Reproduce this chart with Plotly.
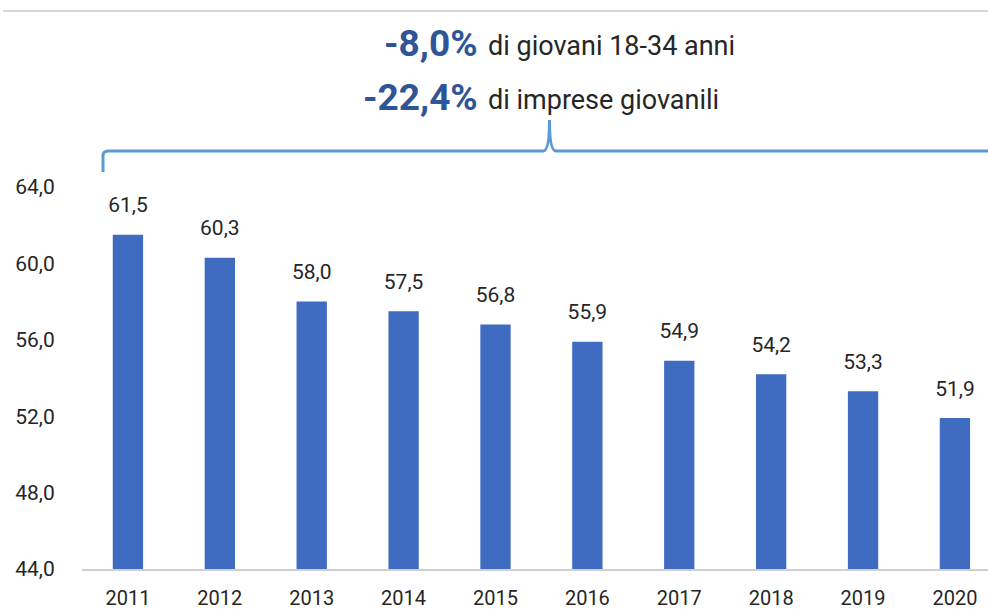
import plotly.graph_objects as go

years = ["2011", "2012", "2013", "2014", "2015", "2016", "2017", "2018", "2019", "2020"]
values = [61.5, 60.3, 58.0, 57.5, 56.8, 55.9, 54.9, 54.2, 53.3, 51.9]
y_ticks = [44, 48, 52, 56, 60, 64]
headline_pct = ["-8,0%", "-22,4%"]
headline_txt = ["di giovani 18-34 anni", "di imprese giovanili"]

FONT = "Roboto"
TXT = "#262626"

fig = go.Figure()
fig.add_trace(go.Bar(
    x=years, y=values, width=0.33,
    marker=dict(color="#3F6CC1", line=dict(width=0)),
    hoverinfo="skip",
))
fig.add_trace(go.Scatter(
    x=years, y=values, mode="markers+text",
    text=[f"{v:.1f}".replace(".", ",") for v in values],
    textposition="top center",
    textfont=dict(family=FONT, size=21, color=TXT),
    marker=dict(size=26, opacity=0),
    hoverinfo="skip", cliponaxis=False,
))

# plot area in px: left 82, right 988, top 187, bottom 569
L, W, B, H = 82, 906, 569, 382
px = lambda x: (x - L) / W
py = lambda y: (B - y) / H

# top grey line
fig.add_shape(type="line", xref="paper", yref="paper",
              x0=px(3), x1=1.0, y0=py(11), y1=py(11),
              line=dict(color="#C8C8C8", width=1.5))
# bracket
xl, yb, yh, xp, ypk = px(103), py(172), py(151), px(549.5), py(120)
d = 0.006
path = (f"M {xl},{yb} L {xl},{yh - 0.012} Q {xl},{yh} {xl + d},{yh} "
        f"L {xp - 0.007},{yh} Q {xp},{yh} {xp},{ypk} Q {xp},{yh} {xp + 0.007},{yh} L 1.0,{yh}")
fig.add_shape(type="path", xref="paper", yref="paper", path=path,
              line=dict(color="#5B9BD5", width=3))

for i, (p, t) in enumerate(zip(headline_pct, headline_txt)):
    yc = py([43, 97][i])
    fig.add_annotation(xref="paper", yref="paper", x=px(480), y=yc,
                       xanchor="right", yanchor="middle", showarrow=False,
                       text=f"<b>{p}</b>",
                       font=dict(family=FONT, size=37, color="#2F5597"))
    fig.add_annotation(xref="paper", yref="paper", x=px(486), y=yc - 0.008,
                       xanchor="left", yanchor="middle", showarrow=False,
                       text=t, font=dict(family=FONT, size=27, color=TXT))

fig.update_layout(
    width=988, height=614,
    margin=dict(l=L, r=0, t=187, b=45),
    paper_bgcolor="white", plot_bgcolor="white",
    separators=",.",
    showlegend=False,
    font=dict(family=FONT, color=TXT),
    xaxis=dict(type="category", range=[-0.5, 9.36], automargin=False,
               showline=True, linecolor="#D0D0D0", linewidth=2,
               ticks="outside", ticklen=10, tickcolor="rgba(0,0,0,0)",
               tickfont=dict(family=FONT, size=20, color=TXT),
               showgrid=False, zeroline=False, fixedrange=True),
    yaxis=dict(range=[44, 64], tickvals=y_ticks, tickformat=".1f", automargin=False,
               showline=False, showgrid=False, zeroline=False,
               ticks="outside", ticklen=22, tickcolor="rgba(0,0,0,0)",
               tickfont=dict(family=FONT, size=21, color=TXT)),
)

fig.write_html("out.html", config={"displayModeBar": False},
               post_script="document.body.style.margin='0';document.body.style.overflow='hidden';")
